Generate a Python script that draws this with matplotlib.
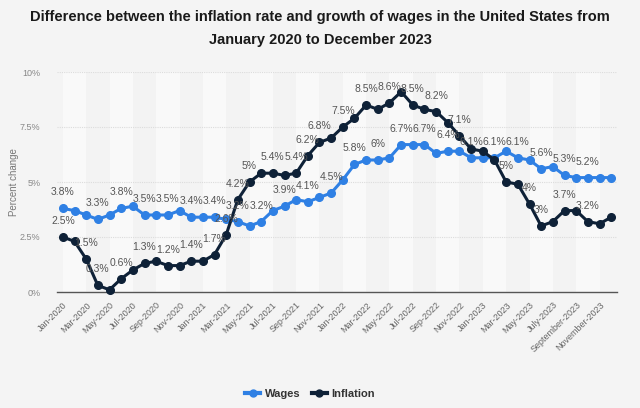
import matplotlib
matplotlib.use("Agg")
import matplotlib.pyplot as plt
from matplotlib.lines import Line2D

plt.rcParams['font.family'] = ['Liberation Sans', 'DejaVu Sans']

months = ["Jan", "Feb", "Mar", "Apr", "May", "Jun", "Jul", "Aug", "Sep", "Oct", "Nov", "Dec"]
categories = [f"{m}-{y}" for y in (2020, 2021, 2022, 2023) for m in months]

wages = [3.8, 3.7, 3.5, 3.3, 3.5, 3.8, 3.9, 3.5, 3.5, 3.5, 3.7, 3.4,
         3.4, 3.4, 3.3, 3.2, 3.0, 3.2, 3.7, 3.9, 4.2, 4.1, 4.3, 4.5,
         5.1, 5.8, 6.0, 6.0, 6.1, 6.7, 6.7, 6.7, 6.3, 6.4, 6.4, 6.1,
         6.1, 6.1, 6.4, 6.1, 6.0, 5.6, 5.7, 5.3, 5.2, 5.2, 5.2, 5.2]
inflation = [2.5, 2.3, 1.5, 0.3, 0.1, 0.6, 1.0, 1.3, 1.4, 1.2, 1.2, 1.4,
             1.4, 1.7, 2.6, 4.2, 5.0, 5.4, 5.4, 5.3, 5.4, 6.2, 6.8, 7.0,
             7.5, 7.9, 8.5, 8.3, 8.6, 9.1, 8.5, 8.3, 8.2, 7.7, 7.1, 6.5,
             6.4, 6.0, 5.0, 4.9, 4.0, 3.0, 3.2, 3.7, 3.7, 3.2, 3.1, 3.4]

wage_label_idx = [0, 3, 5, 7, 9, 11, 13, 15, 17, 19, 21, 23, 25, 27, 29, 31,
                  33, 35, 37, 39, 41, 43, 45]
infl_label_idx = [0, 2, 3, 5, 7, 9, 11, 13, 14, 15, 16, 18, 20, 21, 22, 24,
                  26, 28, 30, 32, 34, 38, 40, 41, 43, 45]

tick_labels = ["Jan-2020", "Mar-2020", "May-2020", "Jul-2020", "Sep-2020", "Nov-2020",
               "Jan-2021", "Mar-2021", "May-2021", "Jul-2021", "Sep-2021", "Nov-2021",
               "Jan-2022", "Mar-2022", "May-2022", "Jul-2022", "Sep-2022", "Nov-2022",
               "Jan-2023", "Mar-2023", "May-2023", "July-2023", "September-2023",
               "November-2023"]
yticks = [0, 2.5, 5, 7.5, 10]
ytick_labels = ["0%", "2.5%", "5%", "7.5%", "10%"]

BG = "#f4f4f4"
BLUE = "#2f80e4"
NAVY = "#0e2137"

fig = plt.figure(figsize=(6.4, 4.08), dpi=100, facecolor=BG)
ax = fig.add_axes([57/640, 1 - 292/408, 560/640, 220/408])
ax.set_facecolor(BG)

x = list(range(len(categories)))
n = len(categories)
ax.set_xlim(-0.5, n - 0.5)
ax.set_ylim(0, 10)

# alternating vertical bands between labelled ticks
for k, start in enumerate(range(0, n - 2, 2)):
    col = "#f9f9f9" if k % 2 == 0 else "#f3f3f3"
    ax.axvspan(start, start + 2, color=col, zorder=0, lw=0)

for yv in yticks[1:]:
    ax.axhline(yv, color="#dcdcdc", lw=0.8, ls=(0, (1, 1)), zorder=1)

ax.plot(x, wages, color=BLUE, lw=2.2, marker="o", ms=5.5, zorder=3, clip_on=False)
ax.plot(x, inflation, color=NAVY, lw=2.2, marker="o", ms=5.5, zorder=3, clip_on=False)

def fmt(v):
    s = f"{v:.1f}"
    if s.endswith(".0"):
        s = s[:-2]
    return s + "%"

for i in wage_label_idx:
    ax.annotate(fmt(wages[i]), (i, wages[i]), xytext=(0, 16), textcoords="offset pixels",
                ha="center", va="center", fontsize=7.5, color="#555555", zorder=4)
for i in infl_label_idx:
    ax.annotate(fmt(inflation[i]), (i, inflation[i]), xytext=(0, 16), textcoords="offset pixels",
                ha="center", va="center", fontsize=7.5, color="#555555", zorder=4)

for s in ["top", "right", "left"]:
    ax.spines[s].set_visible(False)
ax.spines["bottom"].set_color("#555555")
ax.spines["bottom"].set_linewidth(1.0)

ax.set_xticks(x[::2])
ax.set_xticklabels(tick_labels, rotation=45, ha="right", rotation_mode="anchor",
                   fontsize=6.5, color="#666666")
ax.tick_params(axis="x", length=0, pad=6)
ax.set_yticks(yticks)
ax.set_yticklabels(ytick_labels, fontsize=6.5, color="#888888")
ax.tick_params(axis="y", length=0, pad=12)
ax.set_ylabel("Percent change", fontsize=7, color="#777777")
ax.yaxis.set_label_coords(-38/560, 0.5)

fig.text(0.5, 1 - 17/408, "Difference between the inflation rate and growth of wages in the United States from",
         ha="center", va="center", fontsize=10.5, fontweight="bold", color="#1a1a1a")
fig.text(0.5, 1 - 40/408, "January 2020 to December 2023",
         ha="center", va="center", fontsize=10.5, fontweight="bold", color="#1a1a1a")

handles = [Line2D([0], [0], color=BLUE, lw=3, marker="o", ms=5),
           Line2D([0], [0], color=NAVY, lw=3, marker="o", ms=5)]
leg = fig.legend(handles, ["Wages", "Inflation"], loc="center", bbox_to_anchor=(310/640, 1 - 394/408),
                 ncol=2, frameon=False, fontsize=8, handlelength=1.4, handletextpad=0.4,
                 columnspacing=1.0)
for t in leg.get_texts():
    t.set_fontweight("bold")
    t.set_color("#333333")

fig.savefig("out.png", dpi=100, facecolor=BG)
